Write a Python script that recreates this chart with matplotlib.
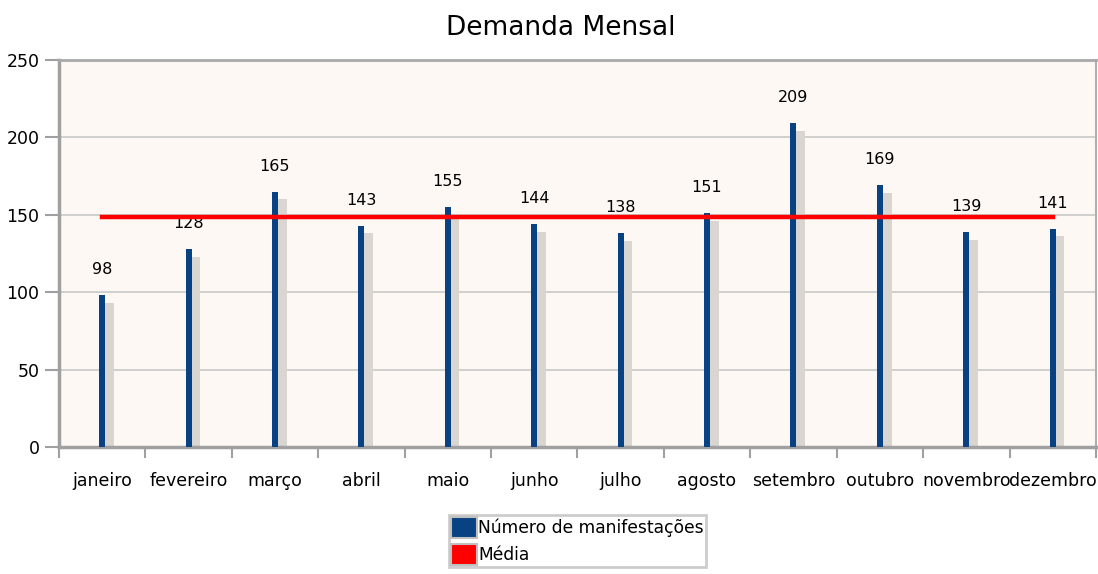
import matplotlib.pyplot as plt
from matplotlib.patches import Patch

meses = ['janeiro', 'fevereiro', 'março', 'abril', 'maio', 'junho',
         'julho', 'agosto', 'setembro', 'outubro', 'novembro', 'dezembro']
manifestacoes = [98, 128, 165, 143, 155, 144, 138, 151, 209, 169, 139, 141]
y_ticks = [0, 50, 100, 150, 200, 250]

media = sum(manifestacoes) / len(manifestacoes)

plt.rcParams['font.family'] = ['DejaVu Sans']

fig = plt.figure(figsize=(10.98, 5.74), dpi=100)
ax = fig.add_axes([0.0537, 0.2213, 0.9444, 0.6742])
ax.set_facecolor('#fdf8f4')

x = list(range(len(meses)))

# sombra das barras
ax.bar([i + 0.035 for i in x], [v - 5 for v in manifestacoes], width=0.1,
       align='edge', color='#d9d5d1', zorder=2)
ax.bar(x, manifestacoes, width=0.07, color='#084283', zorder=3)

ax.plot(x, [media] * len(x), color='#ff0000', linewidth=3.2, zorder=4)

for i, v in zip(x, manifestacoes):
    ax.annotate(str(v), (i, v), xytext=(0, 13), textcoords='offset points',
                ha='center', va='bottom', fontsize=11.5)

ax.set_xlim(-0.5, 11.5)
ax.set_ylim(0, 250)
ax.set_yticks(y_ticks)
ax.set_xticks(x)
ax.set_xticklabels(meses)
ax.set_xticks([i - 0.5 for i in range(len(meses) + 1)], minor=True)
ax.tick_params(axis='x', which='major', length=0, pad=18, labelsize=12.5)
ax.tick_params(axis='x', which='minor', length=8, width=1.5, color='#a0a0a0')
ax.tick_params(axis='y', length=10, width=1.5, color='#a0a0a0', labelsize=12.5, pad=4)
ax.yaxis.grid(True, color='#c8c8c8', linewidth=1.2, zorder=1)
ax.set_axisbelow(True)

for side in ['left', 'bottom']:
    ax.spines[side].set_color('#a0a0a0')
    ax.spines[side].set_linewidth(2.5)
ax.spines['top'].set_color('#a8a8a8')
ax.spines['top'].set_linewidth(2)
ax.spines['right'].set_color('#b0b0b0')
ax.spines['right'].set_linewidth(1.5)

fig.text(0.511, 1 - 28 / 574, 'Demanda Mensal', fontsize=19, ha='center', va='center')

handles = [Patch(facecolor='#084283', edgecolor='#c0c0c0', linewidth=1.5,
                 label='Número de manifestações'),
           Patch(facecolor='#ff0000', edgecolor='#c0c0c0', linewidth=1.5, label='Média')]
leg = fig.legend(handles=handles, loc='upper center', bbox_to_anchor=(0.526, 0.102),
                 frameon=True, fancybox=False, fontsize=12.3, handlelength=1.5,
                 handleheight=1.5, handletextpad=0.1, labelspacing=0.35,
                 borderpad=0.1, borderaxespad=0)
leg.get_frame().set_edgecolor('#c0c0c0')
leg.get_frame().set_linewidth(2)

fig.savefig('out.png', dpi=100)
